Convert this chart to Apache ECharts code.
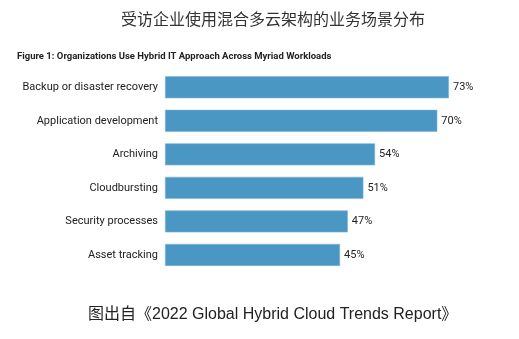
<!DOCTYPE html>
<html>
<head>
<meta charset="utf-8">
<script src="https://cdn.jsdelivr.net/npm/echarts@6/dist/echarts.min.js"></script>
<style>
  html, body { margin: 0; padding: 0; background: #fff; }
  #chart { width: 519px; height: 339px; }
</style>
</head>
<body>
<div id="chart"></div>
<script>
// Workload categories, top to bottom
const categories = [
  'Backup or disaster recovery',
  'Application development',
  'Archiving',
  'Cloudbursting',
  'Security processes',
  'Asset tracking'
];
// Share of organizations (%)
const values = [73, 70, 54, 51, 47, 45];

const mainTitle = '受访企业使用混合多云架构的业务场景分布';
const figureTitle = 'Figure 1: Organizations Use Hybrid IT Approach Across Myriad Workloads';
const sourceNote = '图出自《2022 Global Hybrid Cloud Trends Report》';

const chart = echarts.init(document.getElementById('chart'));
chart.setOption({
  animation: false,
  backgroundColor: '#ffffff',
  title: [
    {
      text: mainTitle,
      left: 116,
      top: 6,
      textStyle: { fontFamily: 'Noto Sans CJK SC', fontSize: 16, fontWeight: 'normal', color: '#333' }
    },
    {
      text: figureTitle,
      left: 12,
      top: 47,
      textStyle: { fontFamily: 'Roboto', fontSize: 9.5, fontWeight: 'bold', color: '#222' }
    },
    {
      text: sourceNote,
      left: 83,
      top: 302,
      textStyle: { fontFamily: 'Liberation Sans, Noto Sans CJK SC', fontSize: 16, fontWeight: 'normal', color: '#222' }
    }
  ],
  grid: { left: 165, top: 70.5, width: 311.2, height: 201.2, containLabel: false },
  xAxis: {
    type: 'value',
    min: 0,
    max: 80,
    show: false
  },
  yAxis: {
    type: 'category',
    data: categories,
    inverse: true,
    axisLine: { show: false },
    axisTick: { show: false },
    axisLabel: {
      margin: 7,
      fontFamily: 'Roboto',
      fontSize: 11,
      color: '#222'
    }
  },
  series: [{
    type: 'bar',
    data: values,
    barWidth: 22,
    itemStyle: { color: '#4a97c3', borderColor: '#7db6d6', borderWidth: 0.6 },
    label: {
      show: true,
      position: 'right',
      distance: 4,
      formatter: '{c}%',
      fontFamily: 'Roboto',
      fontSize: 11,
      color: '#222'
    }
  }]
});
</script>
</body>
</html>
